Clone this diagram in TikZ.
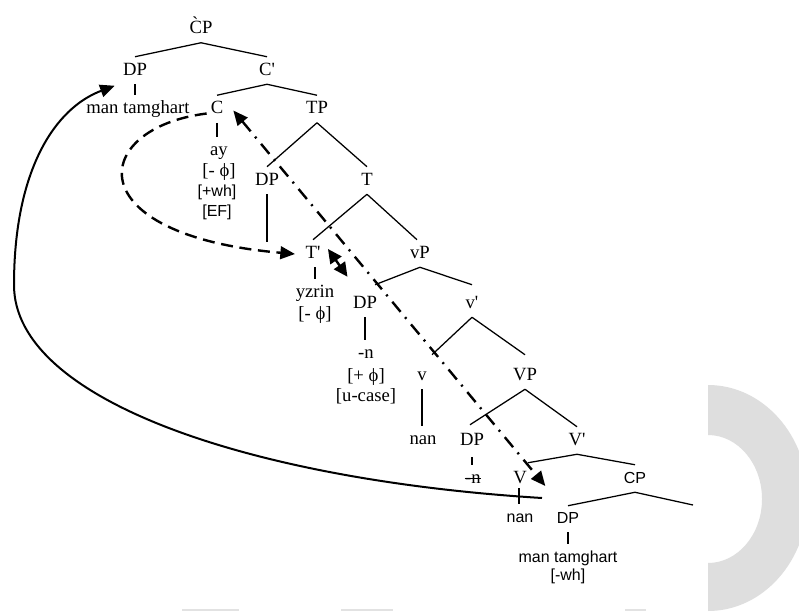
\documentclass[tikz,border=0pt]{standalone}
\usepackage{fontspec}
\setmainfont{Liberation Serif}
\setsansfont{Liberation Sans}
\usetikzlibrary{arrows.meta,calc}

\definecolor{ringgray}{RGB}{222,222,222}
\definecolor{bargray}{RGB}{226,226,226}

\tikzset{
  lab/.style={anchor=base, inner xsep=1pt, inner ysep=3.75pt,
    text height=9.75pt, text depth=3pt, font=\fontsize{14}{16}\selectfont},
  slab/.style={lab, font=\sffamily\fontsize{12}{14}\selectfont},
  branch/.style={line width=0.95pt},
  movetip/.tip={Triangle[length=11pt,width=9.5pt]},
  agreetip/.tip={Triangle[length=10.5pt,width=10pt]},
  dashdot/.style={line width=1.8pt, dash pattern=on 9.75pt off 5.25pt on 1.5pt off 5.5pt},
  longdash/.style={line width=1.8pt, dash pattern=on 9pt off 5pt},
  swoop/.style={line width=1.5pt},
}

\begin{document}
\begin{tikzpicture}[x=0.75pt, y=-0.75pt]
  \useasboundingbox (0,0) rectangle (799,611);
  \fill[white] (0,0) rectangle (799,611);

  % grey half ring at the right margin and the faint bars along the foot
  \begin{scope}
    \clip (708,0) rectangle (799,611);
    \fill[ringgray, even odd rule]
      (708,498) ellipse [x radius=75pt, y radius=84.75pt]
      (708,499) ellipse [x radius=40.5pt, y radius=48pt];
  \end{scope}
  \fill[bargray] (182,609) rectangle (239,611);
  \fill[bargray] (341,609) rectangle (393,611);
  \fill[bargray] (625,609) rectangle (646,611);

  % tree labels
  \node[lab] (cp)    at (201,33.5)  {\`{C}P};
  \node[lab] (dpa)   at (135,75)    {DP};
  \node[lab] (cbar)  at (267,75)    {C\textquotesingle};
  \node[lab] (mta)   at (138,113)   {man tamghart};
  \node[lab] (c)     at (217,113.5) {C};
  \node[lab] (tp)    at (317,113.5) {TP};
  \node[lab] (ay)    at (219,155)   {ay};
  \node[lab] (phia)  at (219,176)   {[- ϕ]};
  \node[slab] (wh)   at (217,196)   {[+wh]};
  \node[slab] (ef)   at (217,216)   {[EF]};
  \node[lab] (dpb)   at (267,185)   {DP};
  \node[lab] (t)     at (367,185)   {T};
  \coordinate (dpbend) at (267,242);
  \node[lab] (tbar)  at (313,258)   {T\textquotesingle};
  \node[lab] (vp)    at (420,258)   {vP};
  \node[lab] (yz)    at (315,297)   {yzrin};
  \node[lab] (phib)  at (315,319)   {[- ϕ]};
  \node[lab] (dpc)   at (365,308)   {DP};
  \node[lab] (vbar)  at (472,308)   {v\textquotesingle};
  \node[lab] (na)    at (366,358)   {-n};
  \node[lab] (phic)  at (366,381)   {[+ ϕ]};
  \node[lab] (ucase) at (366,401)   {[u-case]};
  \node[lab] (v)     at (422,380)   {v};
  \node[lab] (vpb)   at (525,380)   {VP};
  \node[lab] (nana)  at (423,444)   {nan};
  \node[lab] (dpd)   at (472,445)   {DP};
  \node[lab] (vbarb) at (577,445)   {V\textquotesingle};
  \node[lab] (nb)    at (473,483)   {-n};
  \node[lab] (vv)    at (520,483)   {V};
  \node[slab] (cpb)  at (635,483)   {CP};
  \coordinate (cpr) at (693,505);
  \node[slab] (nanb) at (520,522)   {nan};
  \node[slab] (dpe)  at (568,523)   {DP};
  \node[slab] (mtb)  at (568,562)   {man tamghart};
  \node[slab] (whb)  at (568,580)   {[-wh]};

  % branches
  \draw[branch] (cp.south) -- (dpa.north);
  \draw[branch] (cp.south) -- (cbar.north);
  \draw[branch] (dpa.south) -- (dpa.south |- mta.north);
  \draw[branch] (cbar.south) -- (c.north);
  \draw[branch] (cbar.south) -- (tp.north);
  \draw[branch] (c.south) -- (c.south |- ay.north);
  \draw[branch] (tp.south) -- (dpb.north);
  \draw[branch] (tp.south) -- (t.north);
  \draw[branch] (dpb.south) -- (dpbend);
  \draw[branch] (t.south) -- (tbar.north);
  \draw[branch] (t.south) -- ($(vp.north)+(-3,0)$);
  \draw[branch] ($(tbar.south)+(2,0)$) -- ($(tbar.south |- yz.north)+(2,0)$);
  \draw[branch] (vp.south) -- ($(dpc.north)+(10,-5)$);
  \draw[branch] (vp.south) -- ($(vbar.north)+(0,-5)$);
  \draw[branch] (dpc.south) -- (dpc.south |- na.north);
  \draw[branch] (vbar.south) -- ($(v.north)+(10,-7)$);
  \draw[branch] (vbar.south) -- ($(vpb.north)+(0,-7)$);
  \draw[branch] (v.south) -- (v.south |- nana.north);
  \draw[branch] (vpb.south) -- ($(dpd.north)+(-2,-2)$);
  \draw[branch] (vpb.south) -- (vbarb.north);
  \draw[branch] ($(dpd.south)+(0,3)$) -- (dpd.south |- nb.north);
  \draw[branch] (vbarb.south) -- ($(vv.north)+(8,-2)$);
  \draw[branch] (vbarb.south) -- (cpb.north);
  \draw[branch] ($(vv.south)+(-1,-4)$) -- ($(vv.south |- nanb.north)+(-1,0)$);
  \draw[branch] (cpb.south) -- ($(dpe.north)+(0,1)$);
  \draw[branch] (cpb.south) -- (cpr);
  \draw[branch] (dpe.south) -- (dpe.south |- mtb.north);

  % deleted copy of -n
  \draw[line width=0.9pt] ($(nb.west)+(1,0)$) -- ($(nb.east)+(-1,0)$);

  % movement and agreement arrows
  \draw[dashdot, {movetip}-{movetip}]
    ($(c.east)+(8.5,1.5)$) -- ($(vv.east)+(17,7.5)$);
  \draw[longdash, -{movetip}]
    ($(c.west)+(-2.5,4.5)$) .. controls (90,128) and (75,235) .. ($(tbar.west)+(-9,0.5)$);
  \draw[line width=1.8pt, {agreetip}-{agreetip}]
    ($(tbar.east)+(6,-4.5)$) -- ($(dpc.north west)+(-4,-13)$);
  \coordinate (swoopstart) at (542,498);
  \draw[swoop, -{movetip}]
    (swoopstart) .. controls (250,480) and (14,400) .. (14,285)
    .. controls (14,170) and (55,108) .. ($(dpa.south west)+(-6.7,1.5)$);
\end{tikzpicture}
\end{document}
